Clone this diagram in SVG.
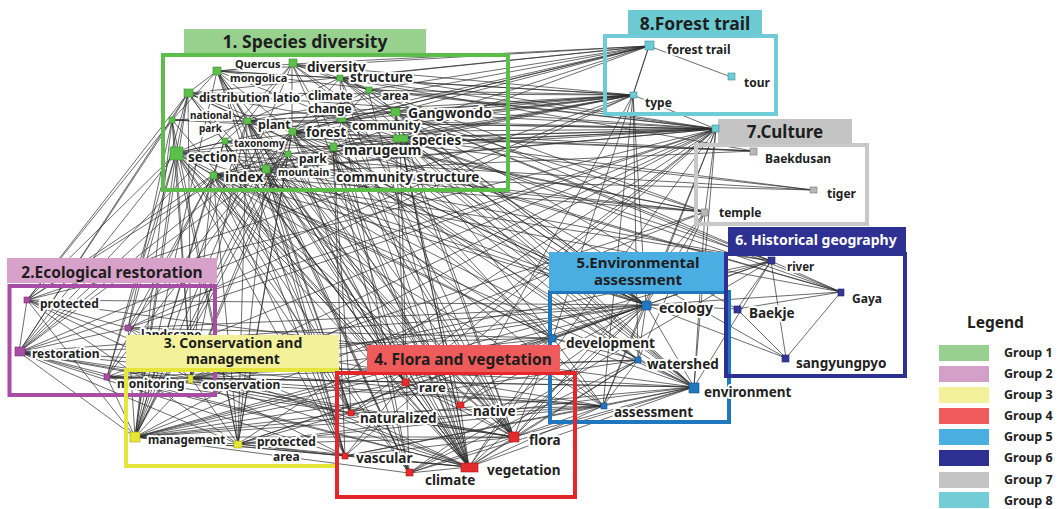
<svg xmlns="http://www.w3.org/2000/svg" width="1060" height="509" viewBox="0 0 1060 509">
<style>
.e{stroke:#2e2e2e;stroke-width:.7;fill:none}
.t{font-family:"Noto Sans","Liberation Sans",sans-serif;font-weight:700;fill:#222}
.lb{paint-order:stroke;stroke:#fff;stroke-width:4;stroke-linejoin:round}
.fr{fill:none;stroke-width:4}
.ttl{font-family:"Noto Sans","Liberation Sans",sans-serif;font-weight:700;fill:#1e1e1e;text-anchor:middle}
.n1 rect{fill:#5cbf4b;stroke:#3e8f32;stroke-width:.6}
.n2 rect{fill:#a94ca6;stroke:#7a2f78;stroke-width:.6}
.n3 rect{fill:#e6e636;stroke:#a8a820;stroke-width:.6}
.n4 rect{fill:#e52b2b;stroke:#a81a1a;stroke-width:.6}
.n5 rect{fill:#2177be;stroke:#15528a;stroke-width:.6}
.n6 rect{fill:#34379a;stroke:#1f2166;stroke-width:.6}
.n7 rect{fill:#b8b8b8;stroke:#777;stroke-width:.6}
.n8 rect{fill:#6fcbd5;stroke:#3a8f99;stroke-width:.6}
.lg{font-family:"Noto Sans","Liberation Sans",sans-serif;font-weight:700;fill:#222;font-size:12.5px}
</style>
<rect width="1060" height="509" fill="#fff"/>

<g id="connectors">
<path id="e-species-diversity-internal" class="e" d="M217 71L292 64M217 71L188 93M217 71L247 121M217 71L340 78M292 64L340 78M292 64L247 121M292 64L292 132M188 93L172 120M188 93L247 121M188 93L342 120M172 120L176 153M172 120L247 121M247 121L292 132M247 121L342 120M247 121L224 142M247 121L288 154M292 132L342 120M292 132L333 147M292 132L288 154M292 132L400 138M292 132L395 112M292 132L340 78M292 132L368 90M340 78L368 90M368 90L395 112M368 90L342 120M395 112L342 120M395 112L400 138M400 138L333 147M400 138L342 120M333 147L288 154M333 147L266 169M288 154L266 169M288 154L224 142M224 142L176 153M176 153L213 175M213 175L266 169M213 175L224 142M213 175L288 154M176 153L247 121M292 64L368 90M340 78L395 112M217 71L292 132M188 93L224 142M340 78L342 120M333 147L342 120M217 71L172 120M188 93L176 153M247 121L340 78M247 121L395 112M224 142L333 147M176 153L288 154M217 71L342 120M188 93L292 132"/>
<path id="e-section" class="e" d="M176 153L19 352M176 153L27 300M176 153L107 377M176 153L135 437M176 153L191 378M176 153L238 444M176 153L351 413M176 153L345 456M176 153L409 473M176 153L469 467M176 153L514 437M176 153L646 305M176 153L553 338M176 153L405 382M176 153L128 328M176 153L603 406"/>
<path id="e-index" class="e" d="M213 175L19 352M213 175L135 437M213 175L238 444M213 175L191 378M213 175L345 456M213 175L469 467M213 175L514 437M213 175L646 305M213 175L694 387M213 175L553 338M213 175L409 473M213 175L351 413M213 175L405 382M213 175L107 377M213 175L128 328M213 175L27 300M213 175L460 405M213 175L813 190"/>
<path id="e-distribution" class="e" d="M188 93L19 352M188 93L27 300M188 93L135 437M188 93L469 467M188 93L514 437M188 93L646 305M188 93L191 378M188 93L107 377"/>
<path id="e-national-park" class="e" d="M172 120L19 352M172 120L27 300M172 120L135 437M172 120L128 328M172 120L191 378M172 120L238 444M172 120L469 467"/>
<path id="e-quercus" class="e" d="M217 71L469 467M217 71L514 437M217 71L351 413M217 71L409 473M217 71L135 437M217 71L405 382M217 71L345 456"/>
<path id="e-plant" class="e" d="M247 121L469 467M247 121L514 437M247 121L460 405M247 121L405 382M247 121L351 413M247 121L409 473M247 121L345 456M247 121L135 437M247 121L191 378M247 121L646 305M247 121L633 95M247 121L716 129M247 121L238 444"/>
<path id="e-taxonomy" class="e" d="M224 142L345 456M224 142L351 413M224 142L514 437M224 142L469 467M224 142L405 382M224 142L135 437"/>
<path id="e-forest" class="e" d="M292 132L469 467M292 132L514 437M292 132L646 305M292 132L553 338M292 132L694 387M292 132L135 437M292 132L19 352M292 132L191 378M292 132L238 444M292 132L633 95M292 132L716 129M292 132L649 46M292 132L460 405M292 132L409 473M292 132L638 360M292 132L128 328M292 132L107 377M292 132L27 300M292 132L841 292"/>
<path id="e-park" class="e" d="M288 154L238 444M288 154L135 437M288 154L646 305M288 154L469 467M288 154L405 382M288 154L191 378M288 154L716 129M288 154L603 406M288 154L19 352"/>
<path id="e-mountain" class="e" d="M266 169L469 467M266 169L514 437M266 169L409 473M266 169L405 382M266 169L238 444M266 169L135 437M266 169L646 305M266 169L694 387M266 169L351 413M266 169L345 456M266 169L553 338"/>
<path id="e-marugeum" class="e" d="M333 147L345 456M333 147L351 413M333 147L405 382M333 147L514 437M333 147L469 467M333 147L409 473M333 147L638 360M333 147L553 338M333 147L633 95M333 147L716 129"/>
<path id="e-climate-change" class="e" d="M342 120L409 473M342 120L469 467M342 120L514 437M342 120L646 305M342 120L694 387M342 120L638 360M342 120L633 95M342 120L716 129M342 120L649 46M342 120L603 406"/>
<path id="e-structure" class="e" d="M340 78L649 46M340 78L633 95M340 78L716 129M340 78L469 467M340 78L514 437M340 78L646 305M340 78L694 387M340 78L771 261M340 78L705 212M340 78L753 151"/>
<path id="e-area" class="e" d="M368 90L716 129M368 90L633 95M368 90L649 46M368 90L646 305M368 90L469 467"/>
<path id="e-gangwondo" class="e" d="M395 112L716 129M395 112L633 95M395 112L649 46M395 112L646 305M395 112L694 387M395 112L469 467M395 112L514 437M395 112L405 382M395 112L771 261M395 112L737 309M395 112L705 212M395 112L841 292"/>
<path id="e-species" class="e" d="M400 138L716 129M400 138L633 95M400 138L469 467M400 138L514 437M400 138L646 305M400 138L694 387M400 138L553 338M400 138L638 360M400 138L771 261M400 138L841 292M400 138L786 358M400 138L813 190M400 138L753 151M400 138L460 405M400 138L409 473M400 138L649 46"/>
<path id="e-diversity" class="e" d="M292 64L649 46M292 64L633 95M292 64L716 129M292 64L469 467M292 64L514 437M292 64L646 305M292 64L694 387M292 64L135 437M292 64L19 352"/>
<path id="e-long-range" class="e" d="M176 153L716 129M213 175L716 129M188 93L716 129M172 120L716 129M217 71L716 129M224 142L716 129M266 169L716 129M19 352L716 129M107 377L716 129M238 444L716 129M176 153L705 212M213 175L705 212M292 132L705 212M247 121L705 212M266 169L705 212M176 153L813 190M292 132L813 190M292 132L753 151M213 175L753 151M172 120L753 151M213 175L771 261M176 153L771 261M191 378L771 261M135 437L771 261M553 338L771 261M333 147L841 292M213 175L841 292M213 175L633 95M176 153L633 95M188 93L633 95M217 71L633 95M172 120L633 95M224 142L633 95M266 169L633 95M19 352L633 95M217 71L649 46M188 93L649 46M247 121L649 46M333 147L649 46M176 153L649 46M128 328L633 95M27 300L633 95M191 378L705 212M135 437L705 212M345 456L716 129M405 382L716 129M469 467L716 129M514 437L705 212M460 405L633 95M409 473L771 261"/>
<path id="e-restoration" class="e" d="M19 352L27 300M19 352L128 328M19 352L107 377M19 352L135 437M19 352L191 378M19 352L238 444M19 352L646 305M19 352L553 338M19 352L694 387M19 352L603 406M19 352L469 467M19 352L514 437M19 352L351 413M19 352L345 456"/>
<path id="e-protected" class="e" d="M27 300L128 328M27 300L135 437M27 300L191 378M27 300L238 444M27 300L646 305M27 300L694 387M27 300L469 467M27 300L716 129"/>
<path id="e-landscape" class="e" d="M128 328L135 437M128 328L646 305M128 328L553 338M128 328L469 467M128 328L191 378M128 328L603 406M128 328L716 129"/>
<path id="e-monitoring" class="e" d="M107 377L135 437M107 377L646 305M107 377L694 387M107 377L469 467M107 377L514 437M107 377L603 406M107 377L638 360M107 377L191 378"/>
<path id="e-conservation" class="e" d="M191 378L135 437M191 378L238 444M191 378L646 305M191 378L694 387M191 378L553 338M191 378L469 467M191 378L514 437M191 378L405 382M191 378L351 413M191 378L345 456M191 378L603 406M191 378L638 360M191 378L716 129"/>
<path id="e-management" class="e" d="M135 437L238 444M135 437L646 305M135 437L694 387M135 437L553 338M135 437L469 467M135 437L514 437M135 437L603 406M135 437L638 360M135 437L351 413M135 437L345 456M135 437L409 473M135 437L405 382"/>
<path id="e-protected-area" class="e" d="M238 444L646 305M238 444L694 387M238 444L553 338M238 444L469 467M238 444L514 437M238 444L603 406M238 444L345 456M238 444L351 413"/>
<path id="e-flora-vegetation" class="e" d="M469 467L514 437M469 467L460 405M469 467L405 382M469 467L351 413M469 467L345 456M469 467L409 473M469 467L646 305M469 467L553 338M469 467L694 387M469 467L603 406M469 467L638 360M514 437L460 405M514 437L405 382M514 437L351 413M514 437L345 456M514 437L409 473M514 437L646 305M514 437L694 387M514 437L553 338M514 437L638 360M514 437L603 406M405 382L460 405M405 382L351 413M405 382L345 456M405 382L646 305M460 405L646 305M460 405L553 338M409 473L646 305M409 473L694 387M409 473L638 360M351 413L646 305M351 413L603 406M345 456L694 387M345 456L603 406"/>
<path id="e-environmental" class="e" d="M646 305L553 338M646 305L638 360M646 305L694 387M646 305L603 406M646 305L705 212M646 305L771 261M646 305L786 358M646 305L841 292M646 305L737 309M646 305L716 129M646 305L633 95M694 387L638 360M694 387L553 338M694 387L603 406M694 387L771 261M553 338L638 360M553 338L603 406M638 360L603 406"/>
<path id="e-historical" class="e" d="M771 261L841 292M771 261L737 309M771 261L786 358M737 309L786 358M841 292L786 358M841 292L737 309"/>
<path id="e-culture-trail" class="e" d="M705 212L716 129M705 212L694 387M705 212L638 360M649 46L731 77M649 46L633 95M716 129L633 95M649 46L553 338M633 95L603 406M633 95L638 360M716 129L603 406M716 129L351 413M716 129L135 437M716 129L694 387"/>
</g>

<!-- 5. Environmental assessment -->
<g id="group5">
<rect class="fr" x="550" y="292" width="179" height="130" stroke="#1f78bf"/>
<rect x="549" y="252" width="179" height="39" fill="#4aaee2"/>
<text class="ttl" x="638" y="268" font-size="15">5.Environmental</text>
<text class="ttl" x="638" y="285" font-size="15">assessment</text>
<g id="n-ecology" class="n5"><text class="t lb" x="659" y="313" font-size="14">ecology</text><rect x="642" y="301" width="9" height="9"/></g>
<g id="n-development" class="n5"><text class="t lb" x="566" y="348" font-size="13.5">development</text><rect x="549" y="335" width="7" height="7"/></g>
<g id="n-watershed" class="n5"><text class="t lb" x="647" y="369" font-size="13.5">watershed</text><rect x="635" y="357" width="6" height="6"/></g>
<g id="n-environment" class="n5"><text class="t lb" x="704" y="397" font-size="13.5">environment</text><rect x="689" y="383" width="10" height="10"/></g>
<g id="n-assessment" class="n5"><text class="t lb" x="614" y="417" font-size="13.5">assessment</text><rect x="601" y="403" width="6" height="6"/></g>
</g>

<!-- 6. Historical geography -->
<g id="group6">
<rect class="fr" x="726" y="254" width="179" height="122" stroke="#2e3192"/>
<rect x="728" y="227" width="178" height="26" fill="#2e3192"/>
<text class="ttl" x="816" y="245" font-size="14" style="fill:#fff">6. Historical geography</text>
<g id="n-river" class="n6"><text class="t lb" x="787" y="271" font-size="11.5">river</text><rect x="768" y="257" width="7" height="7"/></g>
<g id="n-gaya" class="n6"><text class="t lb" x="852" y="303" font-size="12">Gaya</text><rect x="838" y="289" width="6" height="7"/></g>
<g id="n-baekje" class="n6"><text class="t lb" x="749" y="318" font-size="13.5">Baekje</text><rect x="734" y="306" width="7" height="7"/></g>
<g id="n-sangyungpyo" class="n6"><text class="t lb" x="796" y="368" font-size="13.5">sangyungpyo</text><rect x="782" y="355" width="7" height="7"/></g>
</g>

<!-- 7. Culture -->
<g id="group7">
<rect class="fr" x="696" y="145" width="171" height="79" stroke="#c8c8c8"/>
<rect x="718" y="119" width="134" height="25" fill="#c4c4c4"/>
<text class="ttl" x="785" y="138" font-size="17">7.Culture</text>
<g id="n-baekdusan" class="n7"><text class="t lb" x="765" y="163" font-size="12">Baekdusan</text><rect x="750" y="148" width="7" height="7"/></g>
<g id="n-tiger" class="n7"><text class="t lb" x="827" y="198" font-size="12">tiger</text><rect x="810" y="187" width="7" height="6"/></g>
<g id="n-temple" class="n7"><text class="t lb" x="719" y="217" font-size="12">temple</text><rect x="701" y="209" width="7" height="7"/></g>
</g>

<!-- 8. Forest trail -->
<g id="group8">
<rect class="fr" x="605" y="36" width="171" height="78" stroke="#6fcbd5"/>
<rect x="628" y="10" width="134" height="25" fill="#6ccad3"/>
<text class="ttl" x="695" y="30" font-size="17.5">8.Forest trail</text>
<g id="n-forest-trail" class="n8"><text class="t lb" x="667" y="54" font-size="12">forest trail</text><rect x="645" y="41" width="9" height="9"/></g>
<g id="n-tour" class="n8"><text class="t lb" x="744" y="87" font-size="12">tour</text><rect x="728" y="73" width="7" height="7"/></g>
<g id="n-type" class="n8"><text class="t lb" x="645" y="107" font-size="12">type</text><rect x="630" y="92" width="7" height="6"/></g>
<g id="n-trail-hub" class="n8"><rect x="712" y="125" width="7" height="7"/></g>
</g>

<!-- 1. Species diversity -->
<g id="group1">
<rect class="fr" x="163" y="55" width="345" height="135" stroke="#5bbd4a"/>
<rect x="184" y="29" width="242" height="24" fill="#98d08e"/>
<text class="ttl" x="305" y="48" font-size="17.5">1. Species diversity</text>
<g id="n-quercus" class="n1"><text class="t lb" x="235" y="68" font-size="11">Quercus</text><text class="t lb" x="230" y="82" font-size="11">mongolica</text><rect x="213" y="67" width="8" height="8"/></g>
<g id="n-diversity" class="n1"><text class="t lb" x="307" y="72" font-size="13.5">diversity</text><rect x="289" y="59" width="8" height="8"/></g>
<g id="n-structure" class="n1"><text class="t lb" x="350" y="82" font-size="13.5">structure</text><rect x="337" y="75" width="6" height="6"/></g>
<g id="n-distribution" class="n1"><text class="t lb" x="199" y="102" font-size="12">distribution</text><rect x="184" y="89" width="9" height="8"/></g>
<g id="n-latio" class="n1"><text class="t lb" x="273" y="102" font-size="12">latio</text></g>
<g id="n-climate-change" class="n1"><text class="t lb" x="308" y="100" font-size="12">climate</text><text class="t lb" x="308" y="113" font-size="12">change</text><rect x="338" y="118" width="8" height="4"/></g>
<g id="n-area" class="n1"><text class="t lb" x="382" y="100" font-size="12">area</text><rect x="366" y="87" width="6" height="6"/></g>
<g id="n-gangwondo" class="n1"><text class="t lb" x="408" y="118" font-size="14">Gangwondo</text><rect x="391" y="108" width="9" height="8"/></g>
<g id="n-national-park" class="n1"><text class="t lb" x="190" y="119" font-size="10">national</text><text class="t lb" x="199" y="132" font-size="10">park</text><rect x="169" y="117" width="6" height="6"/></g>
<g id="n-plant" class="n1"><text class="t lb" x="258" y="129" font-size="12.5">plant</text><rect x="244" y="118" width="7" height="6"/></g>
<g id="n-forest" class="n1"><text class="t lb" x="306" y="137" font-size="13.5">forest</text><rect x="289" y="128" width="7" height="7"/></g>
<g id="n-community" class="n1"><text class="t lb" x="352" y="130" font-size="12">community</text></g>
<g id="n-species" class="n1"><text class="t lb" x="412" y="145" font-size="13.5">species</text><rect x="393" y="135" width="15" height="7"/></g>
<g id="n-taxonomy" class="n1"><text class="t lb" x="234" y="147" font-size="10">taxonomy</text><rect x="222" y="138" width="6" height="6"/></g>
<g id="n-section" class="n1"><text class="t lb" x="188" y="162" font-size="13.5">section</text><rect x="170" y="147" width="13" height="13"/></g>
<g id="n-park" class="n1"><text class="t lb" x="299" y="163" font-size="12">park</text><rect x="285" y="151" width="6" height="6"/></g>
<g id="n-marugeum" class="n1"><text class="t lb" x="344" y="155" font-size="14">marugeum</text><rect x="330" y="143" width="7" height="8"/></g>
<g id="n-index" class="n1"><text class="t lb" x="225" y="182" font-size="14">index</text><rect x="210" y="172" width="7" height="7"/></g>
<g id="n-mountain" class="n1"><text class="t lb" x="278" y="176" font-size="10.5">mountain</text><rect x="262" y="165" width="8" height="8"/></g>
<g id="n-community-structure" class="n1"><text class="t lb" x="336" y="182" font-size="13.5">community structure</text></g>
</g>

<!-- 2. Ecological restoration -->
<g id="group2">
<rect class="fr" x="9.5" y="286" width="205.5" height="109" stroke="#a94ca5"/>
<rect x="7" y="258" width="210" height="25" fill="#d7a1c9"/>
<text class="ttl" x="112" y="278" font-size="15.5">2.Ecological restoration</text>
<g id="n-protected" class="n2"><text class="t lb" x="40" y="308" font-size="12">protected</text><rect x="24" y="297" width="6" height="6"/></g>
<g id="n-landscape" class="n2"><text class="t lb" x="141" y="339" font-size="12">landscape</text><rect x="125" y="325" width="6" height="6"/></g>
<g id="n-restoration" class="n2"><text class="t lb" x="32" y="358" font-size="12">restoration</text><rect x="15" y="347" width="10" height="9"/></g>
<g id="n-monitoring" class="n2"><text class="t lb" x="117" y="388" font-size="12">monitoring</text><rect x="104" y="374" width="6" height="6"/></g>
</g>

<!-- 3. Conservation and management -->
<g id="group3">
<rect class="fr" x="126" y="370" width="211" height="96" stroke="#e5e53a"/>
<rect x="126" y="335" width="213" height="33" fill="#f3f29a"/>
<text class="ttl" x="233" y="348" font-size="14">3. Conservation and</text>
<text class="ttl" x="233" y="364" font-size="14">management</text>
<g id="n-conservation" class="n3"><text class="t lb" x="202" y="389" font-size="12">conservation</text><rect x="188" y="375" width="5" height="8"/></g>
<g id="n-management" class="n3"><text class="t lb" x="148" y="444" font-size="11.5">management</text><rect x="130" y="432" width="10" height="10"/></g>
<g id="n-protected-area" class="n3"><text class="t lb" x="257" y="446" font-size="12">protected</text><text class="t lb" x="273" y="461" font-size="12">area</text><rect x="234" y="441" width="8" height="7"/></g>
</g>

<!-- 4. Flora and vegetation -->
<g id="group4">
<rect class="fr" x="337" y="373" width="238" height="124" stroke="#e3272a"/>
<rect x="367" y="345" width="193" height="27" fill="#ef5b5b"/>
<text class="ttl" x="463" y="365" font-size="15.5">4. Flora and vegetation</text>
<g id="n-rare" class="n4"><text class="t lb" x="419" y="392" font-size="13">rare</text><rect x="402" y="379" width="7" height="7"/></g>
<g id="n-native" class="n4"><text class="t lb" x="473" y="416" font-size="13.5">native</text><rect x="457" y="402" width="7" height="6"/></g>
<g id="n-naturalized" class="n4"><text class="t lb" x="360" y="423" font-size="13.5">naturalized</text><rect x="348" y="410" width="6" height="6"/></g>
<g id="n-flora" class="n4"><text class="t lb" x="529" y="445" font-size="13.5">flora</text><rect x="509" y="432" width="10" height="10"/></g>
<g id="n-vascular" class="n4"><text class="t lb" x="356" y="463" font-size="13.5">vascular</text><rect x="342" y="453" width="6" height="6"/></g>
<g id="n-vegetation" class="n4"><text class="t lb" x="487" y="475" font-size="13.5">vegetation</text><rect x="461" y="463" width="17" height="9"/></g>
<g id="n-climate" class="n4"><text class="t lb" x="425" y="485" font-size="13.5">climate</text><rect x="406" y="469" width="7" height="7"/></g>
</g>

<!-- Legend -->
<g id="legend">
<text class="t" x="967" y="328" font-size="15.5">Legend</text>
<rect x="939" y="345" width="50" height="16" fill="#98d090"/><text class="lg" x="1004" y="357">Group 1</text>
<rect x="939" y="366" width="50" height="16" fill="#d5a0c8"/><text class="lg" x="1004" y="378">Group 2</text>
<rect x="939" y="387" width="50" height="16" fill="#f3f19a"/><text class="lg" x="1004" y="399">Group 3</text>
<rect x="939" y="408" width="50" height="16" fill="#f05a5a"/><text class="lg" x="1004" y="420">Group 4</text>
<rect x="939" y="429" width="50" height="16" fill="#4aaee0"/><text class="lg" x="1004" y="441">Group 5</text>
<rect x="939" y="450" width="50" height="16" fill="#2e3192"/><text class="lg" x="1004" y="462">Group 6</text>
<rect x="939" y="472" width="50" height="16" fill="#c4c4c4"/><text class="lg" x="1004" y="484">Group 7</text>
<rect x="939" y="492" width="50" height="16" fill="#72cdd6"/><text class="lg" x="1004" y="505">Group 8</text>
</g>
</svg>
